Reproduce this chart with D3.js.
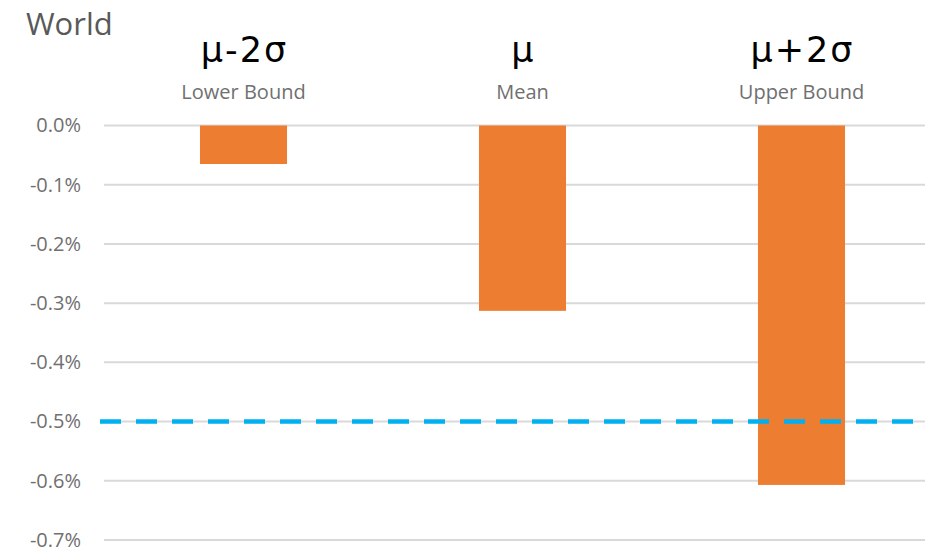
<!DOCTYPE html>
<html>
<head>
<meta charset="utf-8">
<script src="https://cdn.jsdelivr.net/npm/d3@7"></script>
<style>
  html, body { margin: 0; padding: 0; background: #fff; }
  svg { display: block; }
</style>
</head>
<body>
<svg id="chart" width="925" height="548"></svg>
<script>
// Scenario categories, their headline symbols and descriptions
const categories = ["lower", "mean", "upper"];
const symbols = ["μ-2σ", "μ", "μ+2σ"];
const subtitles = ["Lower Bound", "Mean", "Upper Bound"];
// Change values in percent
const values = [-0.065, -0.313, -0.607];
// Y axis ticks (percent)
const yTicks = [0, -0.1, -0.2, -0.3, -0.4, -0.5, -0.6, -0.7];
// Reference threshold (percent)
const threshold = -0.5;

const svg = d3.select("#chart");
const W = 925, H = 548;

const x = d3.scaleBand()
  .domain(categories)
  .range([104, 941])
  .paddingInner(0.688)
  .paddingOuter(0.344);

const y = d3.scaleLinear()
  .domain([0, -0.7])
  .range([125.5, 540]);

// Horizontal gridlines
svg.append("g")
  .selectAll("line")
  .data(yTicks)
  .join("line")
  .attr("x1", 104)
  .attr("x2", W)
  .attr("y1", d => y(d))
  .attr("y2", d => y(d))
  .attr("stroke", "#d9d9d9")
  .attr("stroke-width", 2);

// Y axis tick labels
const yAxis = d3.axisLeft(y)
  .tickValues(yTicks)
  .tickSize(0)
  .tickPadding(0)
  .tickFormat(d => d3.format(".1f")(d).replace("−", "-") + "%");

const yg = svg.append("g")
  .attr("transform", "translate(81,0)")
  .call(yAxis);
yg.select(".domain").remove();
yg.selectAll("text")
  .attr("font-family", "'Open Sans', sans-serif")
  .attr("font-size", 20)
  .attr("fill", "#707070");

// Bars
svg.append("g")
  .selectAll("rect")
  .data(values)
  .join("rect")
  .attr("x", (d, i) => x(categories[i]))
  .attr("width", x.bandwidth())
  .attr("y", d => y(Math.max(0, d)))
  .attr("height", d => Math.abs(y(d) - y(0)))
  .attr("fill", "#ED7D31");

// Threshold dashed line
svg.append("line")
  .attr("x1", 100)
  .attr("x2", W)
  .attr("y1", y(threshold))
  .attr("y2", y(threshold))
  .attr("stroke", "#00B0F0")
  .attr("stroke-width", 4.5)
  .attr("stroke-dasharray", "21 15");

// Category headers
const headers = svg.append("g")
  .selectAll("g")
  .data(categories)
  .join("g")
  .attr("transform", d => `translate(${x(d) + x.bandwidth() / 2},0)`);

const symbolSpacing = 2;
headers.append("text")
  .attr("y", 62)
  .attr("dx", symbolSpacing / 2)
  .attr("text-anchor", "middle")
  .attr("font-family", "'DejaVu Sans', sans-serif")
  .attr("font-size", 35)
  .attr("letter-spacing", symbolSpacing)
  .attr("fill", "#000")
  .text((d, i) => symbols[i]);

headers.append("text")
  .attr("y", 99)
  .attr("text-anchor", "middle")
  .attr("font-family", "'Open Sans', sans-serif")
  .attr("font-size", 20)
  .attr("fill", "#707070")
  .text((d, i) => subtitles[i]);

// Title
svg.append("text")
  .attr("x", 26)
  .attr("y", 35)
  .attr("font-family", "'Open Sans', sans-serif")
  .attr("font-size", 31)
  .attr("fill", "#595959")
  .text("World");
</script>
</body>
</html>
